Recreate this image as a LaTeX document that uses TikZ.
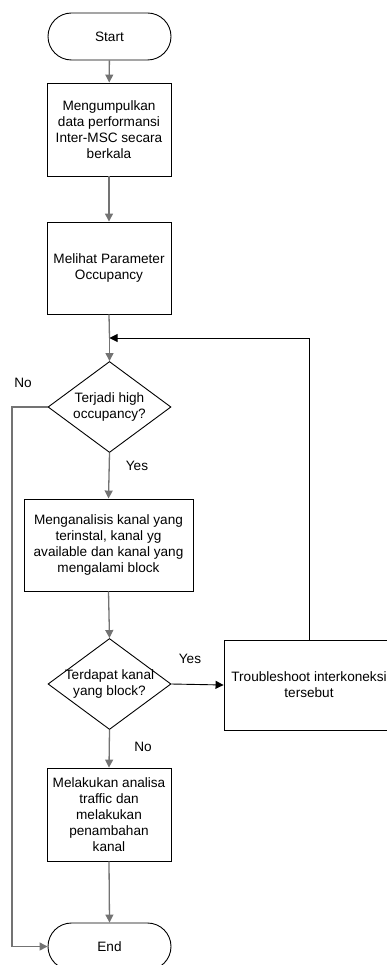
\documentclass[tikz,border=0pt]{standalone}
\usepackage{fontspec}
\setmainfont{Liberation Sans}
\usetikzlibrary{arrows.meta,shapes.geometric}
\begin{document}
\begin{tikzpicture}[x=1pt,y=-1pt,
  every node/.style={font=\fontsize{13.6}{16}\selectfont, inner sep=0pt},
  term/.style={draw=black, line width=0.9pt, rounded corners=23.5pt, minimum width=123pt, minimum height=47pt},
  proc/.style={draw=black, line width=0.9pt, align=center},
  dec/.style={draw=black, line width=0.9pt, diamond, minimum width=123pt, minimum height=91pt, inner sep=0pt, aspect=1.35},
  txt/.style={align=center},
  glink/.style={draw=black!55, line width=1.3pt, -{Triangle[length=8pt,width=8pt]}},
  blink/.style={draw=black, line width=0.9pt, -{Triangle[length=8pt,width=8pt]}},
  lab/.style={font=\fontsize{13.6}{16}\selectfont}
]
\useasboundingbox (0,0) rectangle (387,965);
\clip (0,0) rectangle (387,965);

\node[term] (start) at (109.5,36.5) {Start};
\node[proc, minimum width=124pt, minimum height=93pt] (b1) at (109,129.5) {Mengumpulkan\\data performansi\\Inter-MSC secara\\berkala};
\node[proc, minimum width=124pt, minimum height=92pt] (b2) at (109,268) {Melihat Parameter\\Occupancy};
\coordinate (j1) at (109.5,338);
\node[dec] (d1) at (109.5,407) {};
\node[txt] (d1t) at (109.5,407) {Terjadi high\\occupancy?};
\node[proc, minimum width=169pt, minimum height=92pt] (b3) at (108.5,545) {Menganalisis kanal yang\\terinstal, kanal yg\\available dan kanal yang\\mengalami block};
\node[dec] (d2) at (109.5,684) {};
\node[txt] (d2t) at (109.5,684) {Terdapat kanal\\yang block?};
\node[proc, minimum width=170pt, minimum height=90pt] (b5) at (309,685) {Troubleshoot interkoneksi\\tersebut};
\node[proc, minimum width=124pt, minimum height=93pt] (b4) at (109,814.5) {Melakukan analisa\\traffic dan\\melakukan\\penambahan\\kanal};
\node[term] (end) at (109.5,946.5) {End};
\coordinate (cno) at (12,407);
\coordinate (cno2) at (12,946.5);
\coordinate (cloop) at (309,338);

\path[glink] (start) -- (b1);
\path[glink] (b1) -- (b2);
\draw[draw=black!55, line width=1.3pt] (b2.south) -- (j1);
\path[glink] (j1) -- (d1.north);
\draw[draw=black, line width=0.9pt] (b5.north) -- (cloop);
\path[blink] (cloop) -- (j1);
\path[glink] (d1.west) -- (cno) -- (cno2) -- (end.west);
\path[glink] (d1.south) -- (b3.north);
\path[glink] (b3.south) -- (d2.north);
\path[blink] (d2.east) -- (b5.west);
\path[glink] (d2.south) -- (b4.north);
\path[glink] (b4.south) -- (end.north);

\node[lab] (no1) at (23,383) {No};
\node[lab] (yes1) at (137,466) {Yes};
\node[lab] (yes2) at (190,659) {Yes};
\node[lab] (no2) at (143,747) {No};
\end{tikzpicture}
\end{document}
